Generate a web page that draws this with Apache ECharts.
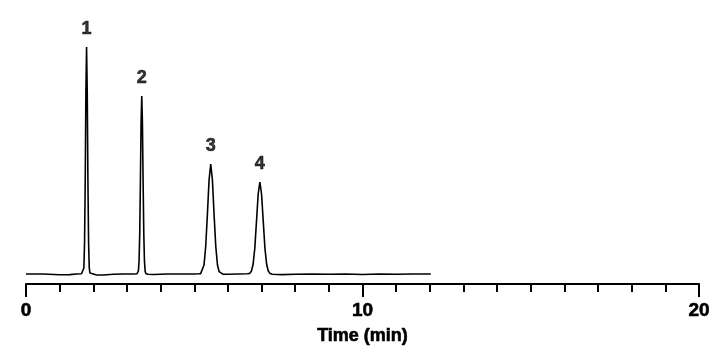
<!DOCTYPE html>
<html>
<head>
<meta charset="utf-8">
<script src="https://cdn.jsdelivr.net/npm/echarts@6/dist/echarts.min.js"></script>
<style>
html,body{margin:0;padding:0;background:#fff;}
#chart{width:727px;height:356px;}
</style>
</head>
<body>
<div id="chart"></div>
<script>
// Retention time (min)
var times = [
  0, 0.5, 1.0, 1.3, 1.5, 1.65,
  1.70, 1.72, 1.74, 1.76, 1.78, 1.80, 1.82, 1.84, 1.86, 1.88, 1.90,
  1.95, 2.1, 2.3, 2.6, 2.9, 3.2, 3.30,
  3.32, 3.34, 3.36, 3.38, 3.40, 3.42, 3.44, 3.46, 3.48, 3.50, 3.52, 3.54, 3.56,
  3.62, 3.8, 4.2, 4.6, 5.0, 5.12,
  5.19, 5.24, 5.29, 5.34, 5.39, 5.44, 5.49, 5.54, 5.59, 5.64, 5.69, 5.74, 5.79,
  5.86, 6.0, 6.3, 6.58,
  6.65, 6.70, 6.75, 6.80, 6.85, 6.90, 6.95, 7.00, 7.05, 7.10, 7.15, 7.20, 7.25,
  7.32, 7.6, 8.0, 8.5, 9.0, 9.5, 10.0, 10.5, 11.0, 11.5, 12.03
];
// Detector signal (arbitrary units)
var signal = [
  0, 0, -0.8, -0.6, 0, 0.2,
  1, 6, 31, 93, 182, 227, 182, 93, 31, 6, 1,
  -0.5, -1, -1, -0.3, 0, 0, 0.3,
  0.5, 3, 13, 41, 93, 151, 178, 151, 93, 41, 13, 3, 0.5,
  -0.3, -0.5, 0, 0, 0, 0.2,
  0.4, 2.3, 9, 27.5, 59, 94, 110, 94, 59, 27.5, 9, 2.3, 0.4,
  -0.3, -0.3, 0, 0.2,
  0.6, 3, 10, 26, 53, 80, 92, 80, 53, 26, 10, 3, 0.6,
  -0.3, -0.6, -0.3, 0, -0.3, 0, -0.5, 0, -0.3, 0, 0
];
// Peak annotations
var peakNames = ['1', '2', '3', '4'];
var peakTimes = [1.80, 3.44, 5.49, 6.95];
var peakHeights = [227, 178, 110, 92];
// Axis ticks
var xMin = 0, xMax = 20, xInterval = 10;

var lineData = times.map(function (t, i) { return [t, signal[i]]; });
var peakData = peakTimes.map(function (t, i) { return { value: [t, peakHeights[i]], name: peakNames[i] }; });

var textBold = {
  fontFamily: 'Liberation Sans', fontWeight: 'bold', fontSize: 19, color: '#000',
  textBorderColor: '#000', textBorderWidth: 0.6
};

var chart = echarts.init(document.getElementById('chart'), null, { renderer: 'canvas' });
chart.setOption({
  animation: false,
  backgroundColor: '#ffffff',
  grid: { left: 26, right: 28, top: 24, bottom: 72 },
  xAxis: {
    type: 'value',
    min: xMin, max: xMax, interval: xInterval,
    name: 'Time (min)',
    nameLocation: 'middle',
    nameGap: 43,
    nameTextStyle: Object.assign({}, textBold, { fontSize: 18 }),
    axisLine: { show: true, onZero: false, lineStyle: { color: '#000', width: 2 } },
    axisTick: { show: true, length: 13, lineStyle: { color: '#000', width: 2 } },
    minorTick: { show: true, splitNumber: 10, length: 8, lineStyle: { color: '#000', width: 2 } },
    axisLabel: Object.assign({ margin: 17 }, textBold),
    splitLine: { show: false },
    minorSplitLine: { show: false }
  },
  yAxis: {
    type: 'value', min: -10, max: 250, show: false,
    splitLine: { show: false }
  },
  series: [
    {
      type: 'line',
      data: lineData,
      showSymbol: false,
      symbol: 'none',
      lineStyle: { color: '#000', width: 1.6 },
      z: 3
    },
    {
      type: 'scatter',
      data: peakData,
      symbolSize: 0,
      label: Object.assign({
        show: true, position: 'top', distance: 9,
        formatter: function (p) { return p.name; }
      }, textBold, { fontSize: 18 }),
      z: 4
    }
  ]
});
</script>
</body>
</html>
